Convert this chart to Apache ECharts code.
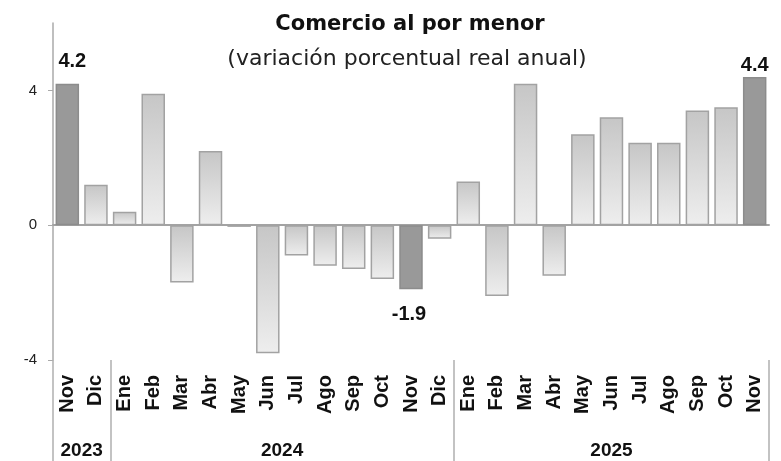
<!DOCTYPE html>
<html>
<head>
<meta charset="utf-8">
<script src="https://cdn.jsdelivr.net/npm/echarts@6/dist/echarts.min.js"></script>
<style>
  html, body { margin: 0; padding: 0; background: #fff; }
  #chart { width: 781px; height: 461px; }
</style>
</head>
<body>
<div id="chart"></div>
<script>
// meses (nov 2023 - nov 2025)
const months = ["Nov", "Dic", "Ene", "Feb", "Mar", "Abr", "May", "Jun", "Jul", "Ago", "Sep", "Oct", "Nov",
  "Dic", "Ene", "Feb", "Mar", "Abr", "May", "Jun", "Jul", "Ago", "Sep", "Oct", "Nov"];
// variación porcentual real anual
const values = [4.2, 1.2, 0.4, 3.9, -1.7, 2.2, -0.05, -3.8, -0.9, -1.2, -1.3, -1.6, -1.9,
  -0.4, 1.3, -2.1, 4.2, -1.5, 2.7, 3.2, 2.45, 2.45, 3.4, 3.5, 4.4];
// barras resaltadas (con etiqueta)
const highlighted = [0, 12, 24];
const valueLabels = ["4.2", "-1.9", "4.4"];
// años: posición central (en categorías) y separadores
const years = ["2023", "2024", "2025"];
const yearCenters = [1, 8, 19.5];
const yearBounds = [0, 2, 14, 25];
const yTicks = [-4, 0, 4];

const chart = echarts.init(document.getElementById("chart"));

const barGradient = new echarts.graphic.LinearGradient(0, 0, 0, 1, [
  { offset: 0, color: "#c6c6c6" },
  { offset: 1, color: "#eeeeee" },
]);

const seriesData = values.map((v, i) => {
  const k = highlighted.indexOf(i);
  if (k < 0) return v;
  return {
    value: v,
    itemStyle: { color: "#999999", borderColor: "#8c8c8c" },
    label: {
      show: true,
      formatter: valueLabels[k],
      position: v >= 0 ? "top" : "bottom",
      distance: i == 0 ? 12 : i == 12 ? 15 : 1,
      offset: i == 0 ? [5, 0] : i == 12 ? [-2, 0] : [0, 0],
    },
  };
});

const option = {
  animation: false,
  title: [
    {
      text: "Comercio al por menor",
      left: 405,
      top: 9,
      textAlign: "center",
      textStyle: { fontFamily: "DejaVu Sans", fontWeight: "bold", fontSize: 21, color: "#111" },
    },
    {
      text: "(variación porcentual real anual)",
      left: 402,
      top: 43,
      textAlign: "center",
      textStyle: { fontFamily: "DejaVu Sans", fontWeight: "normal", fontSize: 22, color: "#222" },
    },
  ],
  grid: {
    left: 53,
    right: 12,
    top: 23,
    bottom: 101,
    containLabel: false,
    outerBoundsMode: "none",
  },
  xAxis: [
    {
      // línea de cero
      type: "category",
      data: months,
      position: "bottom",
      axisLine: { onZero: true, lineStyle: { color: "#a3a3a3", width: 2 } },
      axisTick: { show: false },
      axisLabel: { show: false },
    },
    {
      // etiquetas de meses
      type: "category",
      data: months,
      position: "bottom",
      axisLine: { show: false, onZero: false },
      axisTick: { show: false },
      axisLabel: {
        rotate: 90,
        margin: 15,
        fontFamily: "Liberation Sans",
        fontWeight: "bold",
        fontSize: 20,
        color: "#111",
      },
    },
    {
      // años y separadores
      type: "value",
      min: 0,
      max: 25,
      position: "bottom",
      axisLine: { show: false, onZero: false },
      splitLine: { show: false },
      axisTick: {
        show: true,
        customValues: yearBounds,
        length: 101,
        lineStyle: { color: "#b0b0b0", width: 1.5 },
      },
      axisLabel: {
        customValues: yearCenters,
        formatter: (v) => years[yearCenters.indexOf(v)],
        margin: 81,
        fontFamily: "Liberation Sans",
        fontWeight: "bold",
        fontSize: 19,
        color: "#111",
      },
    },
  ],
  yAxis: {
    type: "value",
    min: -4,
    max: 6,
    interval: 4,
    splitLine: { show: false },
    axisLine: { show: true, lineStyle: { color: "#aaaaaa", width: 1.5 } },
    axisTick: { show: true, customValues: yTicks, length: 5, lineStyle: { color: "#aaaaaa" } },
    axisLabel: {
      customValues: yTicks,
      margin: 16,
      fontFamily: "Liberation Sans",
      fontSize: 15,
      color: "#222",
    },
  },
  series: [
    {
      type: "bar",
      xAxisIndex: 0,
      data: seriesData,
      barWidth: "82%",
      itemStyle: { color: barGradient, borderColor: "#a2a2a2", borderWidth: 1.5 },
      label: {
        show: false,
        fontFamily: "Liberation Sans",
        fontWeight: "bold",
        fontSize: 20,
        color: "#111",
      },
    },
  ],
};

chart.setOption(option);
</script>
</body>
</html>
